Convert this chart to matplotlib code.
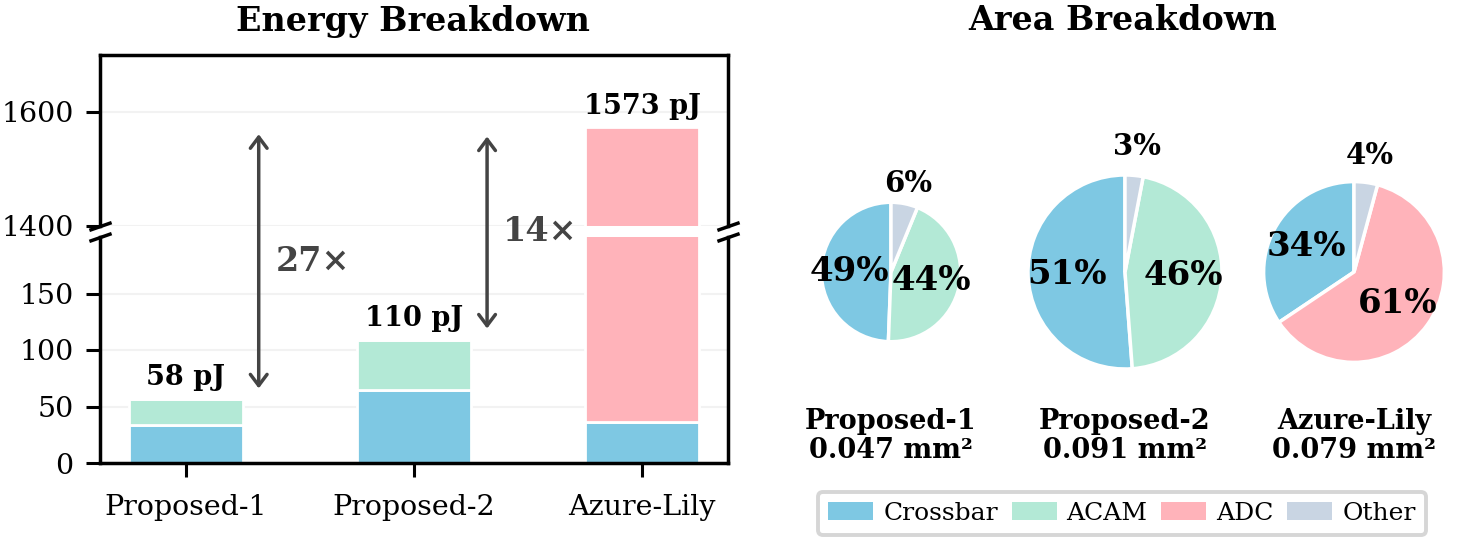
import matplotlib
matplotlib.use('Agg')
import matplotlib.pyplot as plt
from matplotlib.patches import Patch
import numpy as np

plt.rcParams['font.family'] = ['DejaVu Serif']

# ---------------- data ----------------
designs = ['Proposed-1', 'Proposed-2', 'Azure-Lily']
energy_crossbar = [34, 65, 36]
energy_acam = [23, 44, 0]
energy_adc = [0, 0, 1537]
energy_total = [58, 110, 1573]
ratio_labels = ['27×', '14×']

area_mm2 = [0.047, 0.091, 0.079]
area_parts = [['Crossbar', 'ACAM', 'Other'],
              ['Crossbar', 'ACAM', 'Other'],
              ['Crossbar', 'ADC', 'Other']]
area_pct = [[49.4, 44.4, 6.2],
            [51.2, 45.8, 3.0],
            [34.4, 61.4, 4.2]]

colors = {'Crossbar': '#7ec8e3', 'ACAM': '#b3e9d6', 'ADC': '#ffb3ba', 'Other': '#c9d5e3'}

# ---------------- layout ----------------
W, H = 1475, 542
fig = plt.figure(figsize=(W / 100, H / 100), dpi=100)


def box(x0, y0, x1, y1):
    return [x0 / W, 1 - y1 / H, (x1 - x0) / W, (y1 - y0) / H]


ax_top = fig.add_axes(box(100, 55, 728, 226))
ax_bot = fig.add_axes(box(100, 237, 728, 463))

x = np.arange(len(designs))
for ax in (ax_top, ax_bot):
    bottom = np.zeros(len(designs))
    for name, vals in [('Crossbar', energy_crossbar), ('ACAM', energy_acam), ('ADC', energy_adc)]:
        vals = np.array(vals, dtype=float)
        ax.bar(x, vals, 0.5, bottom=bottom, color=colors[name],
               edgecolor='white', linewidth=2, zorder=2)
        bottom += vals
    ax.grid(axis='y', color='#f2f2f2', lw=1.5, zorder=0)
    ax.set_axisbelow(True)
    ax.set_xlim(-0.375, 2.375)
    for s in ax.spines.values():
        s.set_linewidth(2.5)
    ax.tick_params(axis='both', length=10, width=2.2, labelsize=20.5, pad=9)

ax_top.set_ylim(1400, 1700)
ax_top.set_yticks([1400, 1600])
ax_top.spines['bottom'].set_visible(False)
ax_top.tick_params(axis='x', bottom=False, labelbottom=False)

ax_bot.set_ylim(0, 200)
ax_bot.set_yticks([0, 50, 100, 150])
ax_bot.spines['top'].set_visible(False)
ax_bot.set_xticks(x)
ax_bot.set_xticklabels(designs)
ax_bot.tick_params(axis='x', pad=12)

# break marks
mk = dict(marker=[(-1, -0.35), (1, 0.35)], markersize=16, linestyle='none',
          color='k', mec='k', mew=2.5, clip_on=False, zorder=10)
ax_top.plot([0, 1], [0, 0], transform=ax_top.transAxes, **mk)
ax_bot.plot([0, 1], [1, 1], transform=ax_bot.transAxes, **mk)

# total labels
for i, tot in enumerate(energy_total):
    ax = ax_top if tot > 200 else ax_bot
    ax.annotate(f'{tot} pJ', xy=(x[i], tot), xytext=(0, 5), textcoords='offset points',
                ha='center', va='bottom', fontsize=19.5, fontweight='bold', zorder=5)

# ratio arrows
arrow_x = [0.32, 1.32]
arrow_lo = [66, 119]
arrow_hi = [1561, 1557]
text_pos = [(0.395, 178), (1.39, 205)]
for ax_x, lo, hi, lab, (tx, ty) in zip(arrow_x, arrow_lo, arrow_hi, ratio_labels, text_pos):
    ann = ax_bot.annotate('', xy=(ax_x, hi), xycoords=ax_top.transData,
                          xytext=(ax_x, lo), textcoords=ax_bot.transData,
                          arrowprops=dict(arrowstyle='<->,head_length=0.4,head_width=0.3',
                                          color='#444444', lw=2.5, mutation_scale=20,
                                          shrinkA=0, shrinkB=0),
                          annotation_clip=False, zorder=6)
    ann.arrow_patch.set_clip_on(False)
    ax_bot.text(tx, ty, lab, fontsize=24, fontweight='bold', color='#444444',
                ha='left', va='center', clip_on=False, zorder=6)

fig.text(413 / W, 1 - 21 / H, 'Energy Breakdown', ha='center', va='center',
         fontsize=24, fontweight='bold')
fig.text(1123 / W, 1 - 21 / H, 'Area Breakdown', ha='center', va='center',
         fontsize=24, fontweight='bold')

# ---------------- pies ----------------
unit = 97.0
cy = 272
ax_pie = fig.add_axes(box(790, 150, 1460, 395))

pie_cx = [(891 - 1125) / unit, 0.0, (1354 - 1125) / unit]
amax = max(area_mm2)
for i in range(3):
    r = np.sqrt(area_mm2[i] / amax)
    cx = pie_cx[i]
    wedges, _, autotexts = ax_pie.pie(
        area_pct[i], colors=[colors[p] for p in area_parts[i]], startangle=90,
        radius=r, center=(cx, 0), autopct=lambda p: f'{p:.0f}%', pctdistance=0.6,
        wedgeprops=dict(edgecolor='white', linewidth=2.5), frame=True,
        textprops=dict(fontsize=24.5, fontweight='bold'))
    for val, t in zip(area_pct[i], autotexts):
        if val < 10:
            px, py = t.get_position()
            t.set_position((cx + (px - cx) * 1.3 / 0.6, py * 1.3 / 0.6))
            t.set_fontsize(21)
        t.set_clip_on(False)
    ax_pie.text(cx, (cy - 436) / unit, f'{designs[i]}\n{area_mm2[i]:.3f} mm²',
                ha='center', va='center', fontsize=19.5, fontweight='bold',
                linespacing=1.1, clip_on=False)

ax_pie.set_xlim(-(1125 - 790) / unit, (1460 - 1125) / unit)
ax_pie.set_ylim(-(395 - cy) / unit, (cy - 150) / unit)
ax_pie.set_aspect('equal')
ax_pie.axis('off')

handles = [Patch(facecolor=colors[k], edgecolor='none') for k in colors]
leg = fig.legend(handles, list(colors.keys()), loc='center',
                 bbox_to_anchor=(1122 / W, 1 - 513 / H), ncol=4, fontsize=18,
                 frameon=True, fancybox=True, handlelength=1.8, handleheight=0.7,
                 columnspacing=0.55, handletextpad=0.4, borderpad=0.4,
                 borderaxespad=0.2)
leg.get_frame().set_edgecolor('#cccccc')
leg.get_frame().set_linewidth(2.8)

fig.savefig('out.png', dpi=100)
